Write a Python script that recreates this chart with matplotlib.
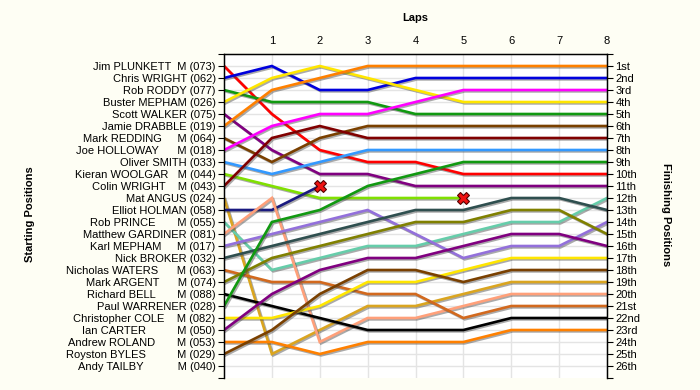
import matplotlib
matplotlib.use("Agg")
import matplotlib.pyplot as plt
import matplotlib.patheffects as pe

plt.rcParams['font.family'] = ['Liberation Sans', 'DejaVu Sans']
plt.rcParams['font.size'] = 8

# starting grid labels (top to bottom)
labels = [
    "Jim PLUNKETT  M (073)",
    "Chris WRIGHT (062)",
    "Rob RODDY (077)",
    "Buster MEPHAM (026)",
    "Scott WALKER (075)",
    "Jamie DRABBLE (019)",
    "Mark REDDING     M (064)",
    "Joe HOLLOWAY      M (018)",
    "Oliver SMITH (033)",
    "Kieran WOOLGAR   M (044)",
    "Colin WRIGHT    M (043)",
    "Mat ANGUS (024)",
    "Elliot HOLMAN (058)",
    "Rob PRINCE       M (055)",
    "Matthew GARDINER (081)",
    "Karl MEPHAM     M (017)",
    "Nick BROKER (032)",
    "Nicholas WATERS      M (063)",
    "Mark ARGENT      M (074)",
    "Richard BELL       M (088)",
    "Paul WARRENER (028)",
    "Christopher COLE    M (082)",
    "Ian CARTER          M (050)",
    "Andrew ROLAND       M (053)",
    "Royston BYLES          M (029)",
    "Andy TAILBY           M (040)",
]

# position at each lap (lap 0 = start); shorter list = retired
positions = [
    [1, 5, 8, 9, 9, 10, 10, 10, 10],
    [2, 1, 3, 3, 2, 2, 2, 2, 2],
    [3, 4, 4, 4, 5, 5, 5, 5, 5],
    [4, 2, 1, 2, 3, 4, 4, 4, 4],
    [5, 8, 10, 10, 11, 11, 11, 11, 11],
    [6, 3, 2, 1, 1, 1, 1, 1, 1],
    [7, 9, 7, 6, 6, 6, 6, 6, 6],
    [8, 6, 5, 5, 4, 3, 3, 3, 3],
    [9, 10, 9, 8, 8, 8, 8, 8, 8],
    [10, 11, 12, 12, 12, 12],
    [11, 7, 6, 7, 7, 7, 7, 7, 7],
    [12, 25, 23, 21, 21, 20, 19, 19, 19],
    [13, 13, 11],
    [14, 18, 17, 16, 16, 15, 14, 14, 12],
    [15, 12, 24, 22, 22, 21, 20, 20, 20],
    [16, 15, 14, 13, 15, 17, 16, 16, 14],
    [17, 16, 15, 14, 13, 13, 12, 12, 13],
    [18, 19, 19, 20, 20, 22, 21, 21, 21],
    [19, 17, 16, 15, 14, 14, 13, 13, 15],
    [20, 21, 22, 23, 23, 23, 22, 22, 22],
    [21, 14, 13, 11, 10, 9, 9, 9, 9],
    [22, 22, 21, 19, 19, 18, 17, 17, 17],
    [23, 20, 18, 17, 17, 16, 15, 15, 16],
    [24, 24, 25, 24, 24, 24, 23, 23, 23],
    [25, 23, 20, 18, 18, 19, 18, 18, 18],
    [],
]

n_laps = 8
palette = ['#ff0000', '#0000dd', '#119911', '#ffe600', '#800080', '#ff8000',
           '#7a4000', '#ff00ff', '#3399ff', '#80e000', '#800000', '#daa520',
           '#1a1a80', '#66cdaa', '#ffa07a', '#9370db', '#2f4f4f', '#d2691e',
           '#808000', '#000000']
colors = [palette[i] if i < 20 else palette[i - 18] for i in range(len(labels))]

def ordinal(n):
    if 10 <= n % 100 <= 20:
        suf = 'th'
    else:
        suf = {1: 'st', 2: 'nd', 3: 'rd'}.get(n % 10, 'th')
    return f"{n}{suf}"

bg = '#fefef4'
fig = plt.figure(figsize=(7, 3.9), dpi=100, facecolor=bg)
ax = fig.add_axes([224 / 700, 12 / 390, 383 / 700, 324 / 390])
ax.set_facecolor('white')

n = len(labels)
ax.set_xlim(0, n_laps)
ax.set_ylim(n + 1, 0)

# grid
for lap in range(1, n_laps + 1):
    ax.axvline(lap, color='#e4e4e4', lw=1, zorder=0)
for r in range(1, n + 1):
    ax.axhline(r, color='#e4e4e4', lw=1, zorder=0)

shadow = [pe.SimpleLineShadow(offset=(1, -1), shadow_color='#444444', alpha=0.45), pe.Normal()]
for pos, c in zip(positions, colors):
    if not pos:
        continue
    ax.plot(range(len(pos)), pos, color=c, lw=1.9, path_effects=shadow, zorder=2,
            solid_joinstyle='miter')
    if len(pos) < n_laps + 1:
        ax.plot(len(pos) - 1, pos[-1], marker='X', ms=9, color='#ee1111',
                mec='#550000', mew=0.8, zorder=5)

ax.xaxis.tick_top()
ax.set_xticks(range(1, n_laps + 1))
ax.tick_params(axis='x', length=0, pad=6)
ax.set_yticks(range(0, n + 2))
ax.set_yticklabels([''] + labels + [''])
ax.tick_params(axis='y', length=4, pad=2)
ax.spines['bottom'].set_visible(False)
for s in ['left', 'top', 'right']:
    ax.spines[s].set_linewidth(1)

ax2 = ax.twinx()
ax2.set_ylim(n + 1, 0)
ax2.set_yticks(range(0, n + 2))
ax2.set_yticklabels([''] + [ordinal(i) for i in range(1, n + 1)] + [''])
ax2.tick_params(axis='y', length=4, pad=2)
ax2.spines['bottom'].set_visible(False)

fig.text(415 / 700, 1 - 18 / 390, 'Laps', ha='center', va='center', fontweight='bold')
fig.text(30 / 700, 0.45, 'Starting Positions', rotation=90, ha='center', va='center',
         fontweight='bold')
fig.text(666 / 700, 0.45, 'Finishing Positions', rotation=270, ha='center', va='center',
         fontweight='bold')

fig.savefig('out.png', dpi=100, facecolor=bg)
